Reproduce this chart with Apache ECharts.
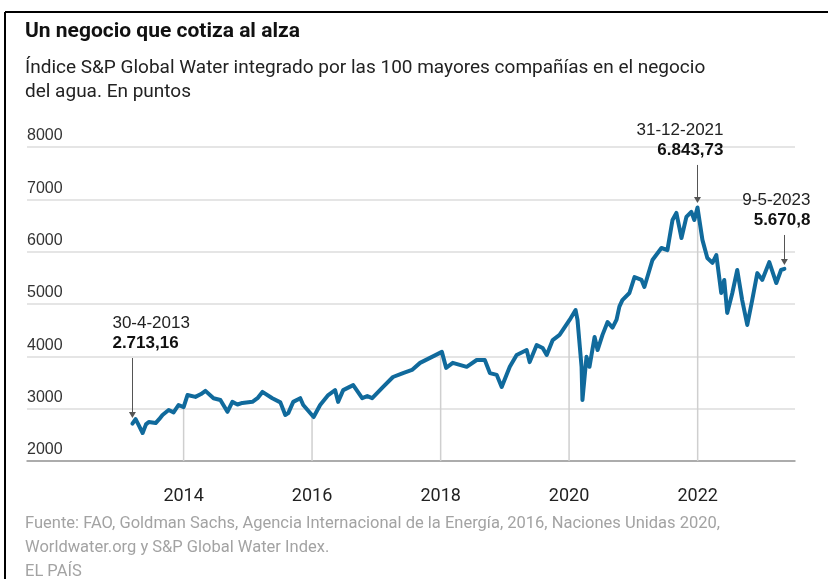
<!DOCTYPE html>
<html>
<head>
<meta charset="utf-8">
<script src="https://cdn.jsdelivr.net/npm/echarts@6/dist/echarts.min.js"></script>
<style>
  html, body { margin: 0; padding: 0; background: #fff; }
  #chart { width: 828px; height: 579px; }
</style>
</head>
<body>
<div id="chart"></div>
<script>
// índice S&P Global Water
const dates = [
  '2013-03-16','2013-04-03','2013-04-20','2013-05-13','2013-06-01','2013-06-17','2013-07-26','2013-08-15','2013-09-03','2013-10-08','2013-11-05','2013-12-03',
  '2014-01-01','2014-01-23','2014-03-09','2014-04-10','2014-05-05','2014-06-20','2014-07-29','2014-09-07','2014-10-05','2014-11-03','2014-12-01',
  '2015-01-27','2015-02-25','2015-03-25','2015-05-20','2015-07-05','2015-08-02','2015-08-19','2015-09-16','2015-10-26','2015-11-12',
  '2016-01-10','2016-02-16','2016-04-02','2016-05-11','2016-05-28','2016-06-26','2016-08-22','2016-10-12','2016-11-10','2016-12-08',
  '2017-02-08','2017-04-05','2017-06-01','2017-07-22','2017-09-06','2017-11-13',
  '2018-01-08','2018-02-01','2018-03-11','2018-05-29','2018-07-25','2018-09-09','2018-10-08','2018-11-16','2018-12-14',
  '2019-01-29','2019-03-09','2019-05-05','2019-05-22','2019-07-01','2019-08-04','2019-08-27','2019-09-30','2019-11-08',
  '2020-01-04','2020-02-07','2020-02-18','2020-03-12','2020-03-17','2020-04-09','2020-04-26','2020-05-25','2020-06-11',
  '2020-07-09','2020-08-07','2020-09-04','2020-09-27','2020-10-13','2020-10-30','2020-12-09',
  '2021-01-07','2021-02-16','2021-03-04','2021-04-19','2021-06-09','2021-07-13','2021-08-11','2021-09-02','2021-10-01',
  '2021-10-29','2021-11-26','2021-12-13','2021-12-31',
  '2022-01-28','2022-02-25','2022-03-26','2022-04-17','2022-05-15','2022-06-01','2022-06-18','2022-07-17','2022-08-14',
  '2022-09-11','2022-10-10','2022-11-07','2022-12-06',
  '2023-01-03','2023-02-12','2023-03-24','2023-04-20','2023-05-09'
];
const values = [
  2713, 2800, 2690, 2535, 2700, 2745, 2725, 2800, 2880, 2975, 2930, 3070,
  3030, 3260, 3225, 3280, 3340, 3200, 3165, 2940, 3130, 3080, 3110,
  3130, 3200, 3320, 3200, 3120, 2880, 2915, 3130, 3200, 3070,
  2840, 3070, 3260, 3355, 3130, 3355, 3450, 3200, 3240, 3200,
  3415, 3605, 3680, 3740, 3875, 3990,
  4085, 3780, 3875, 3800, 3930, 3930, 3680, 3645, 3415,
  3800, 4025, 4120, 3890, 4215, 4160, 4025, 4310, 4410,
  4695, 4885, 4695, 3800, 3165, 3990, 3800, 4370, 4120,
  4410, 4655, 4550, 4700, 4950, 5075, 5210,
  5515, 5460, 5325, 5840, 6070, 6030, 6605, 6740, 6260,
  6665, 6760, 6605, 6844,
  6225, 5880, 5785, 5935, 5210, 5460, 4830, 5210, 5650,
  5075, 4600, 5075, 5590,
  5460, 5800, 5400, 5650, 5671
];

// líneas verticales de los años
const yearDates = ['2014-01-01', '2016-01-01', '2018-01-01', '2020-01-01', '2022-01-01'];
const yearValues = [3030, 2900, 4060, 4695, 6844];
const yearLabels = [2014, 2016, 2018, 2020, 2022];

// anotaciones
const noteDates = ['2013-03-16', '2021-12-31', '2023-05-09'];
const noteLabels = ['30-4-2013', '31-12-2021', '9-5-2023'];
const noteValues = ['2.713,16', '6.843,73', '5.670,8'];
const arrowTop = [3968, 7657, 6319];
const arrowTip = [2879, 6988, 5803];

const narrow = "'Liberation Sans Narrow', 'Roboto', sans-serif";
const sans = "'Liberation Sans', Arial, sans-serif";

const chart = echarts.init(document.getElementById('chart'), null, { renderer: 'canvas' });

const series = dates.map((d, i) => [d, values[i]]);

const noteAlign = ['left', 'right', 'right'];
const noteOffset = [[-20, 0], [26, 0], [26, 0]];

const option = {
  animation: false,
  backgroundColor: '#fff',
  title: [
    {
      text: 'Un negocio que cotiza al alza',
      left: 25, top: 21, padding: 0,
      textStyle: { fontFamily: narrow, fontWeight: 'bold', fontSize: 21, color: '#111' }
    },
    {
      text: 'Índice S&P Global Water integrado por las 100 mayores compañías en el negocio\ndel agua. En puntos',
      left: 25, top: 56, padding: 0,
      textStyle: { fontFamily: narrow, fontWeight: 'normal', fontSize: 19, lineHeight: 24, color: '#222' }
    },
    {
      text: 'Fuente: FAO, Goldman Sachs, Agencia Internacional de la Energía, 2016, Naciones Unidas 2020,\nWorldwater.org y S&P Global Water Index.\nEL PAÍS',
      left: 25, top: 512, padding: 0,
      textStyle: { fontFamily: narrow, fontWeight: 'normal', fontSize: 16.5, lineHeight: 24, color: '#a3a3a3' }
    }
  ],
  graphic: [
    { type: 'line', shape: { x1: 5, y1: 12, x2: 828, y2: 12 }, style: { stroke: '#000', lineWidth: 2 } },
    { type: 'line', shape: { x1: 5, y1: 12, x2: 5, y2: 579 }, style: { stroke: '#000', lineWidth: 2 } }
  ],
  grid: { left: 27, right: 33, top: 147, bottom: 118 },
  xAxis: {
    type: 'time',
    min: '2011-07-30',
    max: '2023-07-04',
    minInterval: 365 * 86400000,
    maxInterval: 366 * 86400000,
    axisLine: { lineStyle: { color: '#999', width: 1.5 } },
    axisTick: { show: false },
    splitLine: { show: false },
    axisLabel: {
      margin: 26,
      fontFamily: narrow,
      fontSize: 18,
      color: '#222',
      showMinLabel: false,
      showMaxLabel: false,
      formatter: function (val) {
        const d = new Date(val);
        const y = d.getFullYear();
        if (d.getMonth() === 0 && d.getDate() === 1 && yearLabels.indexOf(y) >= 0) return String(y);
        return '';
      }
    }
  },
  yAxis: {
    type: 'value',
    min: 2000, max: 8000, interval: 1000,
    axisLine: { show: false },
    axisTick: { show: false },
    splitLine: { lineStyle: { color: '#dcdcdc', width: 1.5 } },
    axisLabel: {
      inside: true,
      margin: 0,
      verticalAlign: 'bottom',
      padding: [0, 0, 3, 0],
      fontFamily: sans,
      fontSize: 16,
      color: '#333',
      formatter: function (v) { return String(v); }
    }
  },
  series: [
    {
      type: 'bar',
      data: yearDates.map((d, i) => [d, yearValues[i]]),
      barWidth: 1.5,
      itemStyle: { color: '#cfcfcf' },
      silent: true,
      z: 1
    },
    {
      type: 'line',
      data: series,
      showSymbol: false,
      lineStyle: { color: '#106a9c', width: 4, join: 'round', cap: 'round' },
      z: 3,
      markLine: {
        silent: true,
        symbol: ['none', 'triangle'],
        symbolSize: [7, 6],
        label: { show: false },
        lineStyle: { color: '#555', width: 1, type: 'solid' },
        data: noteDates.map((d, i) => [
          { coord: [d, arrowTop[i]] },
          { coord: [d, arrowTip[i]] }
        ])
      },
      markPoint: {
        silent: true,
        symbol: 'circle',
        symbolSize: 0,
        data: noteDates.map((d, i) => ({
          coord: [d, arrowTop[i]],
          label: {
            show: true,
            position: 'top',
            distance: 5,
            align: noteAlign[i],
            offset: noteOffset[i],
            formatter: '{a|' + noteLabels[i] + '}\n{b|' + noteValues[i] + '}',
            rich: {
              a: { fontFamily: sans, fontSize: 17, color: '#222', lineHeight: 20, align: noteAlign[i] },
              b: { fontFamily: sans, fontSize: 17, fontWeight: 'bold', color: '#111', lineHeight: 20, align: noteAlign[i] }
            }
          }
        }))
      }
    }
  ]
};

chart.setOption(option);
</script>
</body>
</html>
